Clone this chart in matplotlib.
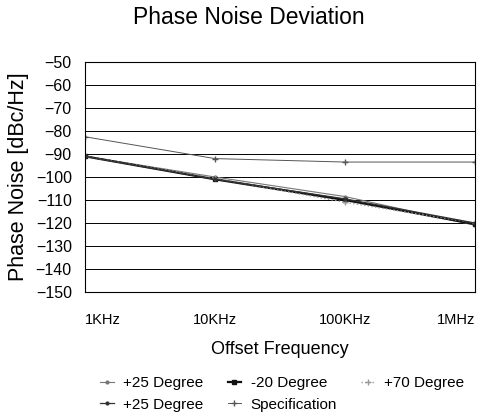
import matplotlib.pyplot as plt

plt.rcParams['font.family'] = ['Liberation Sans', 'DejaVu Sans']

# --- data ---
freqs = [1e3, 1e4, 1e5, 1e6]
freq_labels = ['1KHz', '10KHz', '100KHz', '1MHz']
plus25_a = [-91, -100, -108.5, -121]
minus20 = [-91, -101, -110, -120.5]
plus70 = [-91, -100.5, -111, -120]
plus25_b = [-91, -101, -109.5, -120]
spec = [-82.5, -92, -93.5, -93.5]
y_ticks = list(range(-50, -151, -10))

W, H = 498, 416
fig = plt.figure(figsize=(W / 100, H / 100), dpi=100)
ax = fig.add_axes([85 / W, 1 - 292 / H, 390 / W, 230 / H])

ax.plot(freqs, plus25_a, color='#777777', lw=0.8, marker='o', ms=2, label='+25 Degree')
ax.plot(freqs, minus20, color='#111111', lw=1.6, marker='s', ms=2.5, label='-20 Degree')
ax.plot(freqs, plus70, color='#999999', lw=1.0, ls=':', marker='+', ms=4, label='+70 Degree')
ax.plot(freqs, plus25_b, color='#333333', lw=0.9, marker='o', ms=2, label='+25 Degree')
ax.plot(freqs, spec, color='#555555', lw=0.7, marker='+', ms=4, label='Specification')

ax.set_xscale('log')
ax.set_xlim(1e3, 1e6)
ax.set_ylim(-150, -50)
ax.set_yticks(y_ticks)
ax.set_yticklabels([f'\u2212{abs(v)}' for v in y_ticks])
ax.set_xticks(freqs)
ax.set_xticklabels(freq_labels)
ax.minorticks_off()
for lbl, ha in zip(ax.get_xticklabels(), ['left', 'center', 'center', 'right']):
    lbl.set_ha(ha)
ax.tick_params(axis='both', length=0)
ax.tick_params(axis='y', pad=9.5, labelsize=11.5)
ax.tick_params(axis='x', pad=15, labelsize=10.5)
ax.grid(True, axis='y', color='black', lw=0.7)
for s in ax.spines.values():
    s.set_linewidth(0.8)

ax.set_xlabel('Offset Frequency', fontsize=13, labelpad=10)
ax.set_ylabel('Phase Noise [dBc/Hz]', fontsize=15.5, labelpad=5)
fig.text(0.5, 1 - 17 / H, 'Phase Noise Deviation', fontsize=16.5, ha='center', va='center')

h, l = ax.get_legend_handles_labels()
order = [0, 3, 1, 4, 2]
fig.legend([h[i] for i in order], [l[i] for i in order], loc='upper left',
           bbox_to_anchor=(100 / W, 1 - 376 / H), ncol=3, frameon=False, fontsize=11,
           borderaxespad=0, borderpad=0, handlelength=0.9, columnspacing=1.6,
           handletextpad=0.6, labelspacing=0.5)

fig.savefig('out.png', dpi=100)
